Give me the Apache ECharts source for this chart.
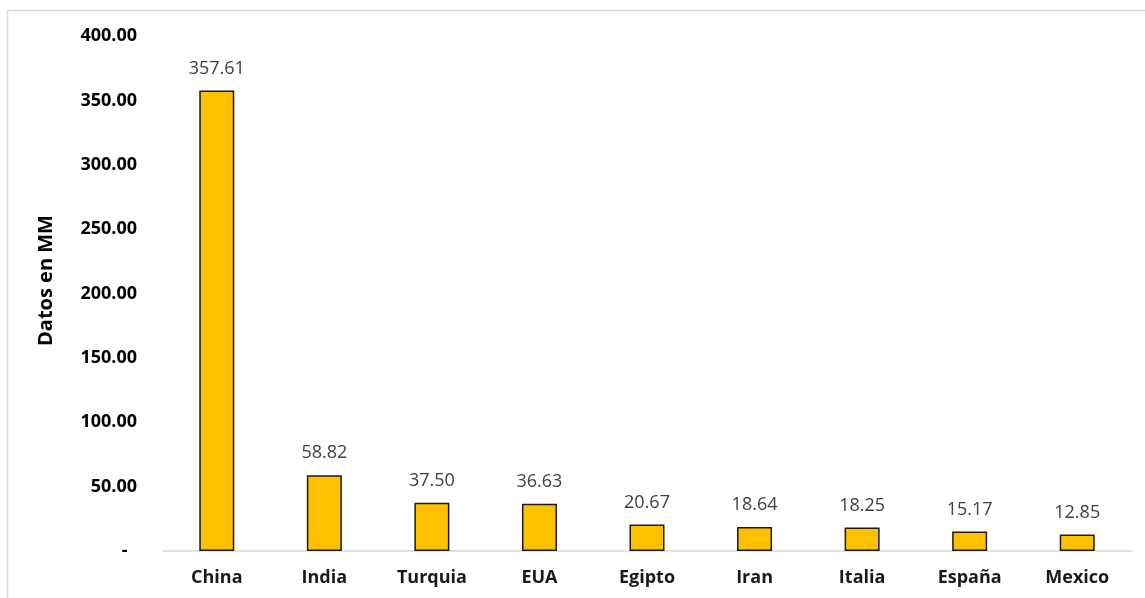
<!DOCTYPE html>
<html><head><meta charset="utf-8">
<script src="https://cdn.jsdelivr.net/npm/echarts@6/dist/echarts.min.js"></script>
<style>html,body{margin:0;padding:0;background:#fff}#c{width:1145px;height:598px}</style>
</head><body><div id="c"></div>
<script>
const categories = ['China','India','Turquia','EUA','Egipto','Iran','Italia','España','Mexico'];
const values = [357.61, 58.82, 37.50, 36.63, 20.67, 18.64, 18.25, 15.17, 12.85];
const yAxisName = 'Datos en MM';

const F = 'Open Sans';
const chart = echarts.init(document.getElementById('c'), null, {renderer:'canvas'});
chart.setOption({
  animation:false,
  backgroundColor:'#fff',
  textStyle:{fontFamily:F},
  graphic:[{type:'rect',shape:{x:7.5,y:10.5,width:1160,height:620},style:{fill:'none',stroke:'#d9d9d9',lineWidth:1.5},silent:true,z:-1}],
  grid:{left:163,right:14,top:36,bottom:47,containLabel:false},
  xAxis:{type:'category',data:categories,
    axisLine:{lineStyle:{color:'#d9d9d9',width:1.5}},axisTick:{show:false},
    axisLabel:{color:'#1a1a1a',fontWeight:'bold',fontSize:18,margin:18,fontFamily:F}},
  yAxis:{type:'value',min:0,max:400,interval:50,
    name:yAxisName,nameLocation:'middle',nameGap:107,nameRotate:90,
    nameTextStyle:{color:'#000',fontWeight:'bold',fontSize:20,fontFamily:F,padding:[0,0,0,26]},
    axisLine:{show:false},axisTick:{show:false},splitLine:{show:false},
    axisLabel:{color:'#000',fontWeight:'bold',fontSize:18,margin:26,fontFamily:F,
      formatter:v=>v===0?'-  ':v.toFixed(2)}},
  series:[{type:'bar',data:values,barWidth:35,
    itemStyle:{color:'#FFC000',borderColor:'#1a1a1a',borderWidth:1.5},
    label:{show:true,position:'top',distance:13,color:'#404040',fontSize:18,fontFamily:F,
      formatter:p=>p.value.toFixed(2)}}]
});
</script></body></html>
